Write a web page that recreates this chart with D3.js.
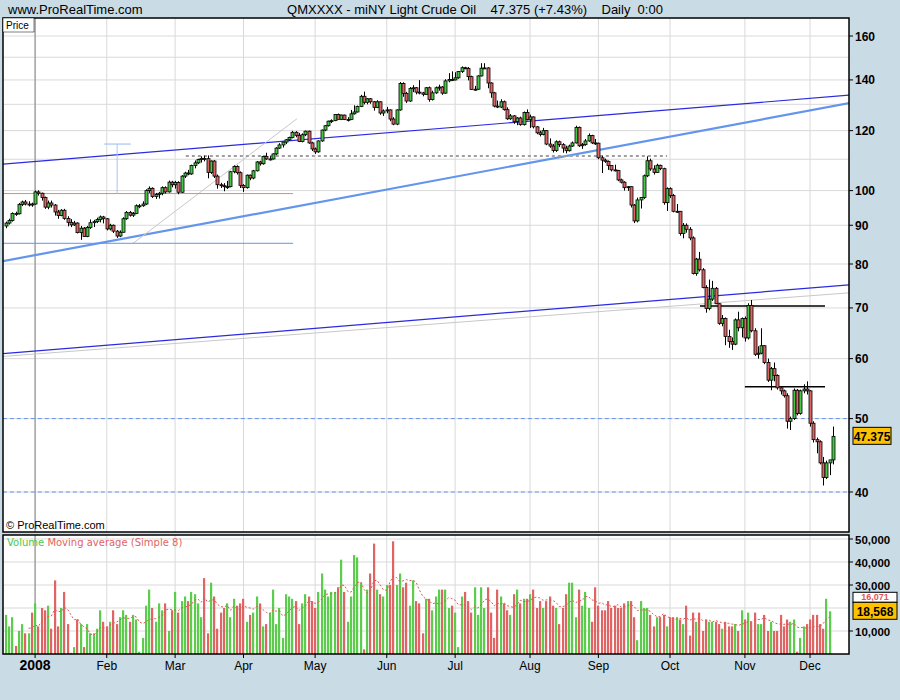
<!DOCTYPE html>
<html><head><meta charset="utf-8">
<script src="https://cdn.jsdelivr.net/npm/d3@7/dist/d3.min.js"></script>
<style>body{margin:0;background:#c9dbe5}svg{display:block}</style>
</head><body><svg id="c" width="900" height="700"></svg>
<script>
// Daily candles [open, high, low, close], 19 Dec 2007 .. 10 Dec 2008 (weekdays)
const candles = [
[89.8,91.0,89.2,90.6],[90.6,91.8,90.2,91.3],[91.3,93.6,91.0,93.3],[93.3,93.8,92.6,93.2],[93.2,96.3,93.0,95.9],[95.9,97.0,95.4,96.6],[96.6,97.2,95.6,96.0],[96.0,96.8,95.3,96.0],[96.0,96.4,95.2,95.9],
[96.0,100.0,95.8,99.6],[99.6,100.1,98.5,99.2],[99.2,99.4,97.0,97.9],[97.9,98.2,94.6,95.1],[95.1,97.0,94.5,96.3],[96.3,97.0,95.0,95.7],[95.7,96.0,92.7,93.7],[93.7,94.3,91.8,92.7],[92.7,94.5,92.5,94.2],[94.2,94.6,91.5,91.9],[91.9,92.5,89.7,90.8],[90.8,91.7,89.5,90.1],[90.1,91.2,89.8,90.6],[90.6,90.8,87.8,88.0],[88.0,89.8,86.1,89.2],[89.2,89.5,86.9,87.0],[87.0,89.8,86.8,89.4],[89.4,91.6,89.0,90.7],[90.7,91.5,89.5,91.0],[91.0,92.1,90.6,91.6],[91.6,92.7,90.8,92.3],[92.3,92.6,90.5,91.8],
[91.8,92.0,88.6,89.0],[89.0,90.4,88.6,90.0],[90.0,90.2,87.9,88.4],[88.4,88.7,86.6,87.1],[87.1,88.6,86.8,88.1],[88.1,92.2,88.0,91.8],[91.8,94.0,91.5,93.6],[93.6,94.0,92.4,92.8],[92.8,93.7,92.3,93.3],[93.3,95.9,93.1,95.5],[95.5,96.0,94.8,95.5],[95.5,96.8,95.2,96.0],[96.0,100.4,95.7,100.0],[100.0,101.3,99.3,100.7],[100.7,101.0,97.8,98.2],[98.2,99.3,97.5,98.8],[98.8,99.6,97.6,99.2],[99.2,101.3,98.6,100.9],[100.9,101.3,99.1,99.6],[99.6,103.1,99.4,102.6],[102.6,103.0,101.0,101.8],
[101.8,103.0,100.6,102.5],[102.5,102.9,98.9,99.5],[99.5,104.8,99.3,104.5],[104.5,105.9,103.9,105.5],[105.5,106.5,104.8,105.2],[105.2,108.2,104.9,107.9],[107.9,109.6,107.0,108.8],[108.8,110.2,108.4,109.9],[109.9,111.0,108.9,110.3],[110.3,111.2,109.3,110.2],[110.2,111.3,103.8,105.7],[105.7,109.6,105.2,109.4],[109.4,109.7,103.9,104.5],[104.5,105.0,100.6,101.8],[101.8,102.4,100.8,101.5],[101.5,102.3,99.8,101.2],[101.2,103.0,100.5,101.2],[101.2,106.2,101.0,105.9],[105.9,108.0,105.4,107.6],[107.6,108.0,105.0,105.6],[105.6,106.0,100.8,101.6],
[101.6,102.0,99.6,100.9],[100.9,105.0,100.6,104.8],[104.8,105.0,103.2,103.9],[103.9,106.5,103.5,106.2],[106.2,109.4,106.0,109.1],[109.1,109.5,107.9,108.5],[108.5,111.2,108.2,110.9],[110.9,112.2,109.8,110.1],[110.1,111.0,109.6,110.1],[110.1,112.0,109.9,111.8],[111.8,114.1,111.4,113.8],[113.8,115.5,113.5,114.9],[114.9,116.0,114.0,115.9],[115.9,117.0,115.2,116.7],[116.7,117.8,116.3,117.5],[117.5,119.9,117.2,119.4],[119.4,119.8,117.6,118.3],[118.3,119.2,115.9,116.1],[116.1,119.0,115.8,118.5],[118.5,120.0,118.0,119.8],[119.8,120.0,115.3,115.6],[115.6,116.0,112.8,113.5],
[113.5,114.0,111.8,112.5],[112.5,116.5,112.2,116.3],[116.3,120.4,116.0,120.2],[120.2,122.0,119.8,121.8],[121.8,123.7,121.5,123.5],[123.5,124.2,122.8,123.7],[123.7,126.2,123.5,126.0],[126.0,126.4,124.2,124.2],[124.2,126.0,123.9,125.8],[125.8,126.0,123.9,124.1],[124.1,125.0,123.4,124.1],[124.1,127.8,123.9,126.3],[126.3,129.6,126.0,127.0],[127.0,129.5,126.8,129.1],[129.1,133.8,128.9,133.2],[133.2,135.1,130.0,130.8],[130.8,132.5,130.0,132.2],[132.2,132.5,130.2,131.0],[131.0,131.3,127.5,128.8],[128.8,131.6,128.5,131.0],[131.0,131.2,125.9,126.6],[126.6,128.0,125.5,127.4],
[127.4,129.0,126.5,127.8],[127.8,128.0,123.5,124.3],[124.3,125.0,122.0,122.4],[122.4,128.0,122.0,127.8],[127.8,139.1,127.5,138.5],[138.5,139.0,133.0,134.4],[134.4,135.0,130.5,131.3],[131.3,137.0,131.0,136.4],[136.4,137.8,134.9,136.7],[136.7,137.0,134.0,134.9],[134.9,139.9,134.0,134.6],[134.6,135.0,133.2,134.0],[134.0,137.0,133.8,136.7],[136.7,137.2,131.0,131.9],[131.9,135.5,131.5,134.6],[134.6,137.2,134.2,136.7],[136.7,138.0,135.5,137.0],[137.0,137.4,133.8,134.5],[134.5,140.3,134.2,139.6],[139.6,142.9,139.0,140.2],[140.2,143.7,139.5,140.0],
[140.0,143.3,139.8,140.9],[140.9,143.8,140.5,143.6],[143.6,145.9,143.0,145.3],[145.3,145.7,144.6,145.0],[145.0,145.6,139.8,141.4],[141.4,141.8,135.9,136.0],[136.0,137.5,135.5,136.1],[136.1,142.0,135.9,141.7],[141.7,147.3,141.5,145.1],[145.1,147.3,144.8,145.2],[145.2,145.5,136.5,138.7],[138.7,139.0,132.6,134.6],[134.6,135.0,128.8,129.3],[129.3,131.5,128.5,128.9],[128.9,132.0,128.5,131.0],[131.0,131.5,127.5,127.9],[127.9,128.8,124.0,124.4],[124.4,126.2,124.0,125.5],[125.5,125.8,122.5,123.3],[123.3,125.0,122.0,124.7],[124.7,125.2,121.8,122.2],[122.2,127.2,121.9,126.8],[126.8,128.0,123.8,124.1],
[124.1,126.0,121.0,125.1],[125.1,125.3,120.8,121.4],[121.4,121.7,118.7,119.2],[119.2,120.0,117.9,118.6],[118.6,121.0,118.3,120.0],[120.0,120.2,114.8,115.2],[115.2,117.2,113.9,114.5],[114.5,115.2,112.3,113.0],[113.0,116.5,112.5,116.0],[116.0,116.4,114.2,115.0],[115.0,115.5,112.2,113.8],[113.8,114.6,112.0,112.9],[112.9,115.0,112.6,114.5],[114.5,116.1,114.2,115.6],[115.6,121.8,115.4,121.2],[121.2,121.5,114.2,114.6],[114.6,115.6,113.5,115.0],[115.0,117.0,114.6,116.3],[116.3,119.0,116.0,118.2],[118.2,118.5,115.2,115.6],[115.6,117.0,114.9,115.5],
[115.5,115.7,110.0,110.5],[110.5,111.2,105.5,109.7],[109.7,110.2,108.8,109.3],[109.3,109.6,106.5,107.9],[107.9,108.0,106.0,106.5],[106.5,108.2,106.0,106.3],[106.3,106.5,102.9,103.3],[103.3,103.7,102.2,102.6],[102.6,102.9,100.0,100.9],[100.9,101.4,99.9,101.2],[101.2,101.3,95.0,95.7],[95.7,96.0,90.6,91.2],[91.2,97.9,90.8,97.2],[97.2,98.0,94.7,97.9],[97.9,105.0,97.5,104.6],[104.6,111.0,104.2,109.5],[109.5,110.2,106.2,106.8],[106.8,108.0,105.0,105.7],[105.7,108.5,105.5,108.0],[108.0,108.2,106.4,106.9],[106.9,107.2,95.8,96.4],[96.4,101.0,94.0,100.6],
[100.6,101.0,97.8,98.5],[98.5,99.0,93.6,93.9],[93.9,96.0,93.5,93.9],[93.9,94.0,87.2,87.8],[87.8,90.6,86.5,90.0],[90.0,90.5,88.0,88.9],[88.9,89.5,86.0,86.6],[86.6,87.0,77.5,77.7],[77.7,81.5,77.2,81.2],[81.2,83.0,78.2,78.6],[78.6,79.0,74.3,74.5],[74.5,75.0,69.0,69.9],[69.9,76.3,69.5,71.9],[71.9,76.0,71.5,74.3],[74.3,74.6,70.8,70.9],[70.9,71.0,66.5,66.8],[66.8,68.5,66.2,67.8],[67.8,68.0,62.5,64.2],[64.2,65.5,62.0,63.2],[63.2,64.0,61.6,62.7],[62.7,67.8,62.5,67.5],[67.5,69.2,65.2,65.9],[65.9,68.0,64.0,67.8],
[67.8,68.2,63.2,63.9],[63.9,71.0,63.6,70.5],[70.5,71.7,65.0,65.3],[65.3,65.8,60.5,60.8],[60.8,62.3,60.0,61.0],[61.0,65.8,60.8,62.4],[62.4,62.5,59.0,59.3],[59.3,60.0,55.9,56.2],[56.2,58.5,54.5,58.2],[58.2,59.3,56.0,57.0],[57.0,57.2,54.6,54.9],[54.9,55.1,53.8,54.4],[54.4,54.6,53.3,53.6],[53.6,54.0,48.5,49.6],[49.6,50.3,48.3,50.0],[50.0,54.8,49.8,54.5],[54.5,54.7,50.5,50.8],[50.8,54.6,50.6,54.4],[54.4,55.5,54.0,54.7],[54.7,56.0,53.8,54.4],
[54.4,54.5,48.8,49.3],[49.3,49.6,46.5,46.9],[46.9,47.2,45.0,46.6],[46.6,46.8,43.5,43.7],[43.7,44.5,40.8,41.8],[41.8,44.0,41.6,43.7],[43.7,44.1,42.1,44.1],[44.1,48.8,43.5,47.375]
];
// Volume, thousands of contracts
const volume = [17,12,16,3.5,10,13,9,9,18,22,12,20,19,21,11,32,12,20,27,13,0.5,3,15,13,3,13,9,9,11,19,14,12,14,19,13,16,19,17,14,17,15,1,7,21,28,20,14,22,19,22,10,19,27,18,23,25,23,27,26,22,16,33,9,31,25,11,18,20,22,16,24,21,22,24,14,17,18,25,22,12,13,18,28,13,20,7,26,25,24,23,13,22,26,25,23,20,27,35,28,25,27,27,29,41,27,14,25,43,42,31,2,28,35,48,28,26,25,30,30,49,30,35,29,31,21,32,23,22,9,24,24,19,25,28,28,
28,20,21,18,3,25,27,23,18,29,17,29,20,29,18,7,28,25,22,19,17,26,28,22,24,24,26,28,20,23,20,23,25,21,20,13,20,26,31,31,16,28,21,27,20,14,29,21,19,19,23,20,21,20,20,22,23,23,16,6,23,20,20,17,12,16,16,17,12,16,16,16,15,13,21,8,18,14,18,10,15,14,14,14,13,11,14,12,12,13,10,19,15,18,14,18,13,13,17,10,14,10,10,17,12,15,14,15,1,7,12,13,15,17,17,13,11,24,18.568];
const monthTicks = [[9,"2008"],[31,"Feb"],[52,"Mar"],[73,"Apr"],[95,"May"],[117,"Jun"],[138,"Jul"],[161,"Aug"],[182,"Sep"],[204,"Oct"],[227,"Nov"],[247,"Dec"]];
const priceLabels = [40,50,60,70,80,90,100,120,140,160];
const priceGrid = [40,50,60,70,80,90,100,110,120,130,140,150,160];
const volLabels = [10000,30000,40000,50000];
const volGrid = [10000,20000,30000,40000,50000];
// Drawn lines: [i1, p1, i2, p2]
const trendLines = [
 {pts:[-0.9,108.4,259.3,133.7], c:"#2a2ae0", w:1.2},
 {pts:[-0.9,80.7,259.3,130.5], c:"#6495ed", w:2.2},
 {pts:[-0.9,60.4,259.3,73.3], c:"#c8c8c8", w:1},
 {pts:[-0.9,60.9,259.3,75.1], c:"#2a2ae0", w:1.2},
 {pts:[39.1,85.2,89.4,124.4], c:"#c8c8c8", w:1}
];
const hLines = [
 {i1:-0.9,i2:88.2,p:99.1,c:"#f08a4b",w:1,d:null},
 {i1:-0.9,i2:88.2,p:85.2,c:"#6495ed",w:1,d:null},
 {i1:55.3,i2:203.1,p:111.1,c:"#a0a0a0",w:2,d:"3,3"},
 {i1:213.2,i2:251.6,p:70.4,c:"#000",w:1.5,d:null},
 {i1:227.0,i2:251.6,p:55.1,c:"#000",w:1.5,d:null},
 {i1:-0.9,i2:259.3,p:50,c:"#6495ed",w:1,d:"4,3"},
 {i1:-0.9,i2:259.3,p:40,c:"#6495ed",w:1,d:"4,3"}
];

const svg = d3.select("#c");
const L=3,R=849,PT=18,PB=532,VT=535,VB=654;
const x = d3.scaleLinear().domain([0,254]).range([5.8,5.8+254*3.256]);
const y = d3.scaleLog().domain([40,160]).range([492,36]);
const yv = d3.scaleLinear().domain([0,50000]).range([654,539]);
const GREEN="#46c846", RED="#dc6464";
const font="'Liberation Sans',Arial,sans-serif";
const narrow="'Liberation Sans Narrow','Liberation Sans',Arial";

svg.append("rect").attr("width",900).attr("height",700).attr("fill","#c9dbe5");
svg.append("rect").attr("x",L).attr("y",PT).attr("width",R-L).attr("height",PB-PT).attr("fill","#fff");
svg.append("rect").attr("x",L).attr("y",VT).attr("width",R-L).attr("height",VB-VT).attr("fill","#fff");

const defs=svg.append("defs");
defs.append("clipPath").attr("id","cp").append("rect").attr("x",L).attr("y",PT).attr("width",R-L).attr("height",PB-PT);
defs.append("clipPath").attr("id","cv").append("rect").attr("x",L).attr("y",VT).attr("width",R-L).attr("height",VB-VT);

const gp=svg.append("g").attr("clip-path","url(#cp)");
const gv=svg.append("g").attr("clip-path","url(#cv)");
gp.selectAll(".hg").data(priceGrid).join("line").attr("x1",L).attr("x2",R).attr("y1",d=>y(d)).attr("y2",d=>y(d)).attr("stroke","#d9d9d9");
gv.selectAll(".hg").data(volGrid).join("line").attr("x1",L).attr("x2",R).attr("y1",d=>yv(d)).attr("y2",d=>yv(d)).attr("stroke","#d9d9d9");
[gp,gv].forEach(g=>g.selectAll(".vg").data(monthTicks).join("line")
  .attr("x1",d=>x(d[0])).attr("x2",d=>x(d[0])).attr("y1",PT).attr("y2",VB)
  .attr("stroke",d=>d[1]==="2008"?"#a0a0a0":"#d9d9d9").attr("stroke-width",d=>d[1]==="2008"?1.5:1));

trendLines.forEach(t=>gp.append("line").attr("x1",x(t.pts[0])).attr("y1",y(t.pts[1])).attr("x2",x(t.pts[2])).attr("y2",y(t.pts[3])).attr("stroke",t.c).attr("stroke-width",t.w));
hLines.forEach(h=>gp.append("line").attr("x1",x(h.i1)).attr("x2",x(h.i2)).attr("y1",y(h.p)).attr("y2",y(h.p)).attr("stroke",h.c).attr("stroke-width",h.w).attr("stroke-dasharray",h.d));
gp.append("line").attr("x1",x(34.2)).attr("x2",x(34.2)).attr("y1",y(99.1)).attr("y2",y(115.2)).attr("stroke","#a8c4f0");
gp.append("line").attr("x1",x(30.2)).attr("x2",x(38.4)).attr("y1",y(115.2)).attr("y2",y(115.2)).attr("stroke","#a8c4f0").attr("stroke-width",1.2);

const cg=gp.append("g");
candles.forEach((c,i)=>{
  const [o,h,l,cl]=c, cx=Math.round(x(i))+0.5;
  cg.append("line").attr("x1",cx).attr("x2",cx).attr("y1",y(h)).attr("y2",y(l)).attr("stroke","#000");
  const t=y(Math.max(o,cl)), b=y(Math.min(o,cl));
  cg.append("rect").attr("x",cx-1.5).attr("y",t).attr("width",3).attr("height",Math.max(1,b-t))
    .attr("fill",cl>=o?GREEN:RED).attr("stroke","#000").attr("stroke-width",0.8);
});

const vols=volume.slice(0,candles.length).map(v=>v*1000);
gv.selectAll(".vb").data(vols).join("rect").attr("x",(d,i)=>Math.round(x(i))-1).attr("width",2.2)
  .attr("y",d=>yv(d)).attr("height",d=>654-yv(d))
  .attr("fill",(d,i)=>candles[i][3]>=candles[i][0]?"#5ccc4c":"#e06464");
const ma=vols.map((v,i)=>i<7?null:d3.mean(vols.slice(i-7,i+1)));
gv.append("path").datum(ma.map((m,i)=>[i,m]).filter(d=>d[1]!=null))
  .attr("d",d3.line().x(d=>x(d[0])).y(d=>yv(d[1]))).attr("fill","none").attr("stroke","#e05555").attr("stroke-dasharray","2,2");

svg.append("rect").attr("x",L).attr("y",PT).attr("width",R-L).attr("height",PB-PT).attr("fill","none").attr("stroke","#000").attr("stroke-width",1.5);
svg.append("rect").attr("x",L).attr("y",VT).attr("width",R-L).attr("height",VB-VT).attr("fill","none").attr("stroke","#000").attr("stroke-width",1.5);

svg.selectAll(".pl").data(priceLabels).join("g").each(function(d){
  const g=d3.select(this);
  g.append("line").attr("x1",R).attr("x2",R+4).attr("y1",y(d)).attr("y2",y(d)).attr("stroke","#000");
  g.append("text").attr("x",R+6).attr("y",y(d)+4.5).text(d).attr("font-family",font).attr("font-weight","bold").attr("font-size",12);
});
svg.selectAll(".vl").data(volLabels).join("g").each(function(d){
  const g=d3.select(this);
  g.append("line").attr("x1",R).attr("x2",R+4).attr("y1",yv(d)).attr("y2",yv(d)).attr("stroke","#000");
  g.append("text").attr("x",R+6).attr("y",yv(d)+5).text(d3.format(",")(d)).attr("font-family",font).attr("font-weight","bold").attr("font-size",11.5);
});
const last=candles[candles.length-1][3];
svg.append("rect").attr("x",853).attr("y",y(last)-9).attr("width",38).attr("height",17).attr("fill","#ffc000").attr("stroke","#000");
svg.append("text").attr("x",872).attr("y",y(last)+4.5).attr("text-anchor","middle").text(d3.format(".3f")(last)).attr("font-family",font).attr("font-weight","bold").attr("font-size",12);
const lastMa=ma[ma.length-1];
const lastV=vols[vols.length-1];
const vy=yv(lastV);
// moving-average badge just above the volume badge
svg.append("rect").attr("x",853).attr("y",vy-19).attr("width",44).attr("height",10).attr("fill","#fff").attr("stroke","#000");
svg.append("text").attr("x",875).attr("y",vy-11).attr("text-anchor","middle").text(d3.format(",")(Math.round(lastMa))).attr("font-family",font).attr("font-weight","bold").attr("font-size",9).attr("fill","#e05555");
svg.append("rect").attr("x",853).attr("y",vy-9).attr("width",44).attr("height",17).attr("fill","#ffc000").attr("stroke","#000");
svg.append("text").attr("x",875).attr("y",vy+4.5).attr("text-anchor","middle").text(d3.format(",")(Math.round(lastV))).attr("font-family",font).attr("font-weight","bold").attr("font-size",12);

svg.selectAll(".xl").data(monthTicks).join("g").each(function(d){
  const g=d3.select(this), xx=x(d[0]);
  g.append("line").attr("x1",xx).attr("x2",xx).attr("y1",VB).attr("y2",VB+4).attr("stroke","#000");
  g.append("text").attr("x",xx).attr("y",670).attr("text-anchor","middle").text(d[1]).attr("font-family",font)
   .attr("font-size",d[1]==="2008"?14:12).attr("font-weight",d[1]==="2008"?"bold":"normal");
});

svg.append("text").attr("x",8).attr("y",14).text("www.ProRealTime.com").attr("font-family",narrow).attr("font-size",13);
svg.append("text").attr("x",475).attr("y",14).attr("text-anchor","middle").attr("xml:space","preserve")
  .text("QMXXXX - miNY Light Crude Oil    47.375 (+7.43%)    Daily  0:00").attr("font-family",narrow).attr("font-size",13);
svg.append("rect").attr("x",L).attr("y",PT).attr("width",31).attr("height",14).attr("fill","#fff").attr("stroke","#000").attr("stroke-width",0.5);
svg.append("text").attr("x",6).attr("y",29).text("Price").attr("font-family",narrow).attr("font-size",10);
svg.append("text").attr("x",6).attr("y",529).text("© ProRealTime.com").attr("font-family",font).attr("font-size",11);
const vt=svg.append("text").attr("x",7).attr("y",546).attr("font-family","'DejaVu Sans',sans-serif").attr("font-size",10);
vt.append("tspan").attr("fill","#4cc84c").text("Volume ");
vt.append("tspan").attr("fill","#e06464").text("Moving average (Simple 8)");
</script></body></html>
